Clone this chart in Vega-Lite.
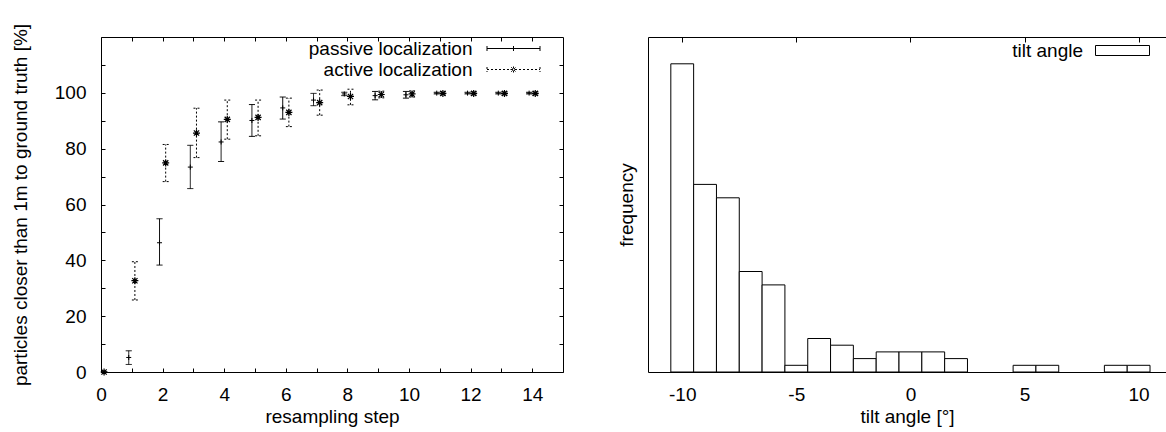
{
  "$schema": "https://vega.github.io/schema/vega-lite/v6.json",
  "padding": {"left": 10, "top": 22, "right": 0, "bottom": 0},
  "spacing": 53,
  "background": "white",
  "config": {
    "font": "Liberation Sans",
    "view": {"stroke": "black", "strokeWidth": 1},
    "axis": {
      "grid": false, "domain": false, "domainColor": "black", "domainWidth": 1,
      "tickColor": "black", "tickSize": -4, "tickWidth": 1,
      "labelColor": "black", "labelFont": "Liberation Sans", "labelFontSize": 19,
      "labelPadding": 17, "labelOverlap": false, "labelFlush": false,
      "titleFont": "Liberation Sans", "titleFontSize": 19, "titleFontWeight": "normal", "titleColor": "black"
    }
  },
  "resolve": {
    "legend": {"strokeDash": "independent", "fill": "independent"},
    "scale": {"x": "independent", "y": "independent", "strokeDash": "independent", "fill": "independent"}
  },
  "hconcat": [
    {
      "width": 462,
      "height": 335,
      "data": {"values": [
        {"series": "passive localization", "x": 0.9, "y": 5.2, "lo": 2.7, "hi": 7.6},
        {"series": "passive localization", "x": 1.9, "y": 46.3, "lo": 38.3, "hi": 54.9},
        {"series": "passive localization", "x": 2.9, "y": 73.4, "lo": 65.7, "hi": 81.2},
        {"series": "passive localization", "x": 3.9, "y": 82.4, "lo": 75.4, "hi": 89.6},
        {"series": "passive localization", "x": 4.9, "y": 90.1, "lo": 84.4, "hi": 95.8},
        {"series": "passive localization", "x": 5.9, "y": 94.6, "lo": 90.6, "hi": 98.5},
        {"series": "passive localization", "x": 6.9, "y": 97.4, "lo": 95.4, "hi": 99.8},
        {"series": "passive localization", "x": 7.9, "y": 99.6, "lo": 99.0, "hi": 100.2},
        {"series": "passive localization", "x": 8.9, "y": 99.0, "lo": 97.5, "hi": 100.5},
        {"series": "passive localization", "x": 9.9, "y": 99.3, "lo": 98.1, "hi": 100.5},
        {"series": "passive localization", "x": 10.9, "y": 99.9, "lo": 99.6, "hi": 100.2},
        {"series": "passive localization", "x": 11.9, "y": 99.9, "lo": 99.6, "hi": 100.2},
        {"series": "passive localization", "x": 12.9, "y": 99.9, "lo": 99.6, "hi": 100.2},
        {"series": "passive localization", "x": 13.9, "y": 99.9, "lo": 99.6, "hi": 100.2},
        {"series": "active localization", "x": 0.1, "y": 0, "lo": 0, "hi": 0},
        {"series": "active localization", "x": 1.1, "y": 32.7, "lo": 25.8, "hi": 39.5},
        {"series": "active localization", "x": 2.1, "y": 74.9, "lo": 68.2, "hi": 81.5},
        {"series": "active localization", "x": 3.1, "y": 85.6, "lo": 76.8, "hi": 94.5},
        {"series": "active localization", "x": 4.1, "y": 90.5, "lo": 83.4, "hi": 97.4},
        {"series": "active localization", "x": 5.1, "y": 91.2, "lo": 84.6, "hi": 97.4},
        {"series": "active localization", "x": 6.1, "y": 93.0, "lo": 87.9, "hi": 98.1},
        {"series": "active localization", "x": 7.1, "y": 96.5, "lo": 92.0, "hi": 101.0},
        {"series": "active localization", "x": 8.1, "y": 98.7, "lo": 95.7, "hi": 101.3},
        {"series": "active localization", "x": 9.1, "y": 99.4, "lo": 98.2, "hi": 100.6},
        {"series": "active localization", "x": 10.1, "y": 99.6, "lo": 98.5, "hi": 100.7},
        {"series": "active localization", "x": 11.1, "y": 99.8, "lo": 99.2, "hi": 100.4},
        {"series": "active localization", "x": 12.1, "y": 99.8, "lo": 99.2, "hi": 100.4},
        {"series": "active localization", "x": 13.1, "y": 99.8, "lo": 99.2, "hi": 100.4},
        {"series": "active localization", "x": 14.1, "y": 99.8, "lo": 99.2, "hi": 100.4}
      ]},
      "resolve": {"axis": {"x": "independent", "y": "independent"}},
      "layer": [
        {
          "mark": {"type": "rule", "strokeWidth": 1, "color": "black"},
          "encoding": {
            "x": {"field": "x", "type": "quantitative", "scale": {"domain": [0, 15]},
              "axis": {"orient": "bottom", "values": [0,1,2,3,4,5,6,7,8,9,10,11,12,13,14],
                "labelExpr": "datum.value % 2 === 0 ? datum.label : ''",
                "title": "resampling step", "titlePadding": 3}},
            "y": {"field": "lo", "type": "quantitative", "scale": {"domain": [0, 120]},
              "axis": {"orient": "left", "values": [0,10,20,30,40,50,60,70,80,90,100,110],
                "labelExpr": "datum.value % 20 === 0 ? datum.label : ''", "labelPadding": 19,
                "title": "particles closer than 1m to ground truth [%]", "titlePadding": 24}},
            "y2": {"field": "hi"},
            "strokeDash": {"field": "series", "type": "nominal",
              "scale": {"domain": ["passive localization", "active localization"], "range": [[1, 0], [2, 2]]},
              "legend": {
                "title": null, "orient": "none", "legendX": 403, "legendY": 2, "padding": 0,
                "labelFont": "Liberation Sans", "labelFontSize": 19, "labelColor": "black",
                "labelAlign": "right", "labelOffset": -50.5, "labelLimit": 400,
                "symbolSize": 100, "symbolStrokeWidth": 1, "symbolStrokeColor": "black",
                "symbolFillColor": "transparent", "rowPadding": 1,
                "encode": {"symbols": {"update": {
                  "shape": {"signal": "datum.value === 'passive localization' ? 'M-5.3,0L5.3,0M-5.3,-0.5L-5.3,0.5M5.3,-0.5L5.3,0.5M0,-0.5L0,0.5M-0.5,0L0.5,0' : 'M-5.3,0L5.3,0M-5.3,-0.5L-5.3,0.5M5.3,-0.5L5.3,0.5M-0.6,0L0.6,0M0,-0.6L0,0.6M-0.45,-0.45L0.45,0.45M-0.45,0.45L0.45,-0.45'"},
                  "stroke": {"value": "black"},
                  "fill": {"value": "transparent"}
                }}}
              }}
          }
        },
        {
          "mark": {"type": "point", "shape": "M-1,0L1,0", "size": 36, "filled": false, "strokeWidth": 1, "color": "black", "opacity": 1},
          "encoding": {
            "x": {"field": "x", "type": "quantitative", "scale": {"domain": [0, 15]},
              "axis": {"orient": "top", "values": [0,1,2,3,4,5,6,7,8,9,10,11,12,13,14], "labels": false, "title": null}},
            "y": {"field": "lo", "type": "quantitative", "scale": {"domain": [0, 120]},
              "axis": {"orient": "right", "values": [0,10,20,30,40,50,60,70,80,90,100,110], "labels": false, "title": null}},
            "strokeDash": {"field": "series", "type": "nominal"}
          }
        },
        {
          "mark": {"type": "point", "shape": "M-1,0L1,0", "size": 36, "filled": false, "strokeWidth": 1, "color": "black", "opacity": 1},
          "encoding": {
            "x": {"field": "x", "type": "quantitative", "scale": {"domain": [0, 15]}, "axis": null},
            "y": {"field": "hi", "type": "quantitative", "scale": {"domain": [0, 120]}, "axis": null},
            "strokeDash": {"field": "series", "type": "nominal"}
          }
        },
        {
          "transform": [{"filter": "datum.series === 'passive localization'"}],
          "mark": {"type": "point", "shape": "M-1,0L1,0M0,-1L0,1", "size": 25, "filled": false, "strokeWidth": 1, "color": "black", "opacity": 1},
          "encoding": {
            "x": {"field": "x", "type": "quantitative", "scale": {"domain": [0, 15]}, "axis": null},
            "y": {"field": "y", "type": "quantitative", "scale": {"domain": [0, 120]}, "axis": null}
          }
        },
        {
          "transform": [{"filter": "datum.series === 'active localization'"}],
          "mark": {"type": "point", "shape": "M-1,0L1,0M0,-1L0,1M-0.75,-0.75L0.75,0.75M-0.75,0.75L0.75,-0.75", "size": 49, "filled": false, "strokeWidth": 1.2, "color": "black", "opacity": 1},
          "encoding": {
            "x": {"field": "x", "type": "quantitative", "scale": {"domain": [0, 15]}, "axis": null},
            "y": {"field": "y", "type": "quantitative", "scale": {"domain": [0, 120]}, "axis": null}
          }
        }
      ]
    },
    {
      "width": 518,
      "height": 335,
      "view": {"stroke": null},
      "data": {"values": [
        {"angle": -10, "lo": -10.5, "hi": -9.5, "count": 46, "series": "tilt angle"},
        {"angle": -9, "lo": -9.5, "hi": -8.5, "count": 28, "series": "tilt angle"},
        {"angle": -8, "lo": -8.5, "hi": -7.5, "count": 26, "series": "tilt angle"},
        {"angle": -7, "lo": -7.5, "hi": -6.5, "count": 15, "series": "tilt angle"},
        {"angle": -6, "lo": -6.5, "hi": -5.5, "count": 13, "series": "tilt angle"},
        {"angle": -5, "lo": -5.5, "hi": -4.5, "count": 1, "series": "tilt angle"},
        {"angle": -4, "lo": -4.5, "hi": -3.5, "count": 5, "series": "tilt angle"},
        {"angle": -3, "lo": -3.5, "hi": -2.5, "count": 4, "series": "tilt angle"},
        {"angle": -2, "lo": -2.5, "hi": -1.5, "count": 2, "series": "tilt angle"},
        {"angle": -1, "lo": -1.5, "hi": -0.5, "count": 3, "series": "tilt angle"},
        {"angle": 0, "lo": -0.5, "hi": 0.5, "count": 3, "series": "tilt angle"},
        {"angle": 1, "lo": 0.5, "hi": 1.5, "count": 3, "series": "tilt angle"},
        {"angle": 2, "lo": 1.5, "hi": 2.5, "count": 2, "series": "tilt angle"},
        {"angle": 5, "lo": 4.5, "hi": 5.5, "count": 1, "series": "tilt angle"},
        {"angle": 6, "lo": 5.5, "hi": 6.5, "count": 1, "series": "tilt angle"},
        {"angle": 9, "lo": 8.5, "hi": 9.5, "count": 1, "series": "tilt angle"},
        {"angle": 10, "lo": 9.5, "hi": 10.5, "count": 1, "series": "tilt angle"}
      ]},
      "resolve": {"axis": {"x": "independent", "y": "independent"}},
      "layer": [
        {
          "mark": {"type": "bar", "stroke": "black", "strokeWidth": 1, "opacity": 1},
          "encoding": {
            "x": {"field": "lo", "type": "quantitative", "scale": {"domain": [-11.5, 11.2]},
              "axis": {"orient": "bottom", "values": [-10, -5, 0, 5, 10], "domain": true, "tickSize": -5,
                "labelPadding": 18, "labelExpr": "'' + datum.value", "title": "tilt angle [°]", "titlePadding": 3}},
            "x2": {"field": "hi"},
            "y": {"field": "count", "type": "quantitative", "scale": {"domain": [0, 50]},
              "axis": {"orient": "left", "domain": true, "ticks": false, "labels": false, "title": "frequency", "titlePadding": 12}},
            "y2": {"datum": 0},
            "fill": {"field": "series", "type": "nominal", "scale": {"range": ["white"]},
              "legend": {
                "title": null, "orient": "none", "legendX": 465, "legendY": 4, "padding": 0,
                "labelFont": "Liberation Sans", "labelFontSize": 19, "labelColor": "black",
                "labelAlign": "right", "labelOffset": -49, "labelLimit": 400,
                "symbolSize": 100, "symbolType": "M-5.4,-1L5.4,-1L5.4,1L-5.4,1Z",
                "symbolStrokeColor": "black", "symbolStrokeWidth": 1
              }}
          }
        },
        {
          "mark": {"type": "bar", "opacity": 0},
          "encoding": {
            "x": {"field": "lo", "type": "quantitative", "scale": {"domain": [-11.5, 11.2]},
              "axis": {"orient": "top", "values": [-10, -5, 0, 5, 10], "domain": true, "tickSize": -5, "labels": false, "title": null}},
            "x2": {"field": "hi"},
            "y": {"field": "count", "type": "quantitative", "scale": {"domain": [0, 50]}, "axis": null},
            "y2": {"datum": 0}
          }
        }
      ]
    }
  ]
}
